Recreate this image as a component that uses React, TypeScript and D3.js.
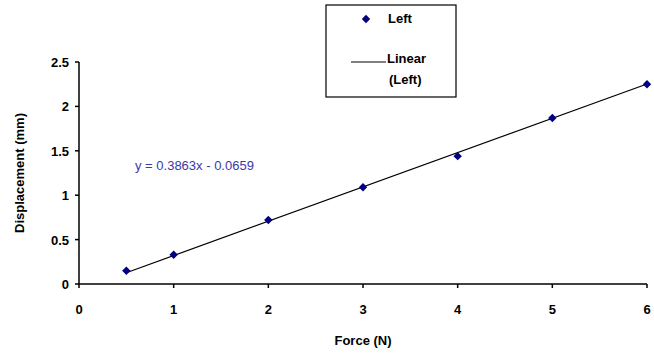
import React from "react"
import * as d3 from "d3"

const forces = [0.5, 1, 2, 3, 4, 5, 6]
const displacements = [0.15, 0.33, 0.72, 1.09, 1.44, 1.87, 2.25]
const xTicks = [0, 1, 2, 3, 4, 5, 6]
const yTicks = [0, 0.5, 1, 1.5, 2, 2.5]
const slope = 0.3863
const intercept = -0.0659

const width = 654
const height = 354
const font = "'Liberation Sans', Arial, sans-serif"

export default function App() {
  const x = d3.scaleLinear().domain([0, 6]).range([79, 647])
  const y = d3.scaleLinear().domain([0, 2.5]).range([284, 62])
  const fitLine = d3
    .line<number>()
    .x((d) => x(d))
    .y((d) => y(slope * d + intercept))
  const diamond = d3.symbol().type(d3.symbolDiamond2).size(45)()

  return (
    <div style={{ position: "absolute", left: 0, top: 0 }}>
      <svg width={width} height={height} style={{ display: "block", background: "#fff" }}>
        <g fontFamily={font} fontWeight="bold" fontSize={13} fill="#000">
          {/* axes */}
          <line x1={x(0)} x2={x(6)} y1={y(0)} y2={y(0)} stroke="#000" strokeWidth={1.5} />
          <line x1={x(0)} x2={x(0)} y1={y(0)} y2={y(2.5)} stroke="#000" strokeWidth={1.5} />
          {xTicks.map((t) => (
            <g key={"x" + t}>
              <line x1={x(t)} x2={x(t)} y1={y(0)} y2={y(0) + 4} stroke="#000" strokeWidth={1.5} />
              <text x={x(t)} y={314} textAnchor="middle">{t}</text>
            </g>
          ))}
          {yTicks.map((t) => (
            <g key={"y" + t}>
              <line x1={x(0) - 4} x2={x(0)} y1={y(t)} y2={y(t)} stroke="#000" strokeWidth={1.5} />
              <text x={x(0) - 10} y={y(t) + 5} textAnchor="end">{t}</text>
            </g>
          ))}
          <text x={363} y={345} textAnchor="middle">Force (N)</text>
          <text transform={`translate(24,${y(1.25)}) rotate(-90)`} textAnchor="middle">
            Displacement (mm)
          </text>

          {/* trend line */}
          <path d={fitLine([0.5, 6]) ?? ""} fill="none" stroke="#000" strokeWidth={1.2} />
          {forces.map((f, i) => (
            <path
              key={"p" + i}
              d={diamond ?? ""}
              transform={`translate(${x(f)},${y(displacements[i])})`}
              fill="#000080"
            />
          ))}
          <text x={135} y={170} fontWeight="normal" fontSize={13} fill="#3a3aa8">
            y = 0.3863x - 0.0659
          </text>

          {/* legend */}
          <rect x={326} y={5} width={130} height={92} fill="#fff" stroke="#000" strokeWidth={1.2} />
          <path d={diamond ?? ""} transform="translate(366,19)" fill="#000080" />
          <text x={388} y={23}>Left</text>
          <line x1={351} x2={386} y1={62} y2={62} stroke="#000" strokeWidth={1.2} />
          <text x={387} y={63}>Linear</text>
          <text x={389} y={84}>(Left)</text>
        </g>
      </svg>
    </div>
  )
}
